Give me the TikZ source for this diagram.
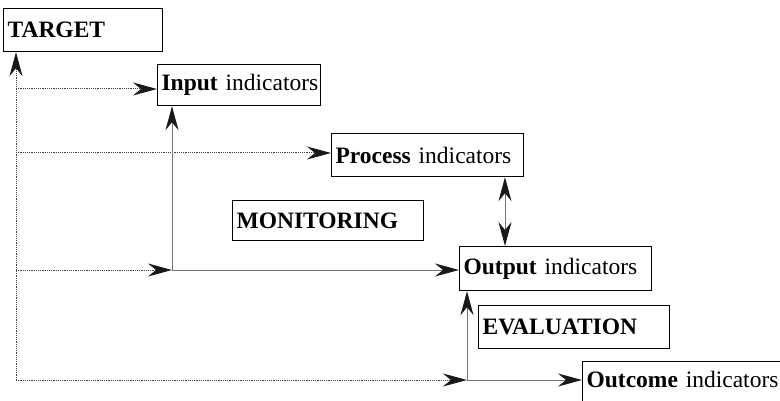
\documentclass[tikz,border=0pt]{standalone}
\usepackage{fontspec}
\setmainfont{Liberation Serif}
\usetikzlibrary{arrows.meta}
\tikzset{
  ibox/.style n args={2}{draw=black, line width=1.2pt, rectangle, anchor=north west,
    inner xsep=4pt, inner ysep=0pt, text width=#1-8pt, minimum height=#2, align=left,
    font=\fontsize{23.5}{27}\selectfont},
  tip/.style={-{Stealth[length=24pt, width=13pt, inset=8pt, color=black!90]}},
  dtip/.style={{Stealth[length=24pt, width=13pt, inset=8pt, color=black!90]}-{Stealth[length=24pt, width=13pt, inset=8pt, color=black!90]}},
  dotline/.style={draw=black!75, line width=1pt, dash pattern=on 1.2pt off 1pt},
  solidline/.style={draw=black!55, line width=1pt},
}
\begin{document}
\begin{tikzpicture}[x=1pt, y=-1pt]
\useasboundingbox (0,0) rectangle (780,401);
\clip (0,0) rectangle (780,401);
\fill[white] (0,0) rectangle (780,401);

% boxes
\node[ibox={159pt}{43pt}] (target) at (3,8) {\mbox{\textbf{TARGET}}};
\node[ibox={163pt}{41pt}] (input) at (157,64) {\mbox{\textbf{Input} indicators}};
\node[ibox={192pt}{43pt}] (process) at (331,133) {\mbox{\textbf{Process} indicators}};
\node[ibox={191pt}{40pt}] (monitor) at (232,200) {\mbox{\textbf{MONITORING}}};
\node[ibox={192pt}{44pt}] (output) at (459,246) {\mbox{\textbf{Output} indicators}};
\node[ibox={191pt}{43pt}] (eval) at (478,305) {\mbox{\textbf{EVALUATION}}};
\node[ibox={215pt}{10pt}, text height=26pt, text depth=30pt] (outcome) at (582,361) {\mbox{\textbf{Outcome} indicators}};

% dotted trunk and branches
\coordinate (tb) at (16,380);
\coordinate (b1) at (16,89);
\coordinate (b2) at (16,153);
\coordinate (b3) at (16,270);
\coordinate (m1) at (172,270);
\coordinate (e1) at (467,380);

\draw[dotline, tip] (tb) -- (tb |- target.south);
\draw[dotline, tip] (b1) -- (b1 -| input.west);
\draw[dotline, tip] (b2) -- (b2 -| process.west);
\draw[dotline, tip] (b3) -- (m1);
\draw[dotline, tip] (tb) -- (e1);

% solid links
\draw[solidline, tip] (m1) -- (m1 |- input.south);
\draw[solidline, tip] (m1) -- (m1 -| output.west);
\draw[solidline, tip] (e1) -- (e1 |- output.south);
\draw[solidline, tip] (e1) -- (e1 -| outcome.west);

% process <-> output
\coordinate (pc) at (505,0);
\draw[solidline, dtip] (pc |- process.south) -- (pc |- output.north);
\end{tikzpicture}
\end{document}
